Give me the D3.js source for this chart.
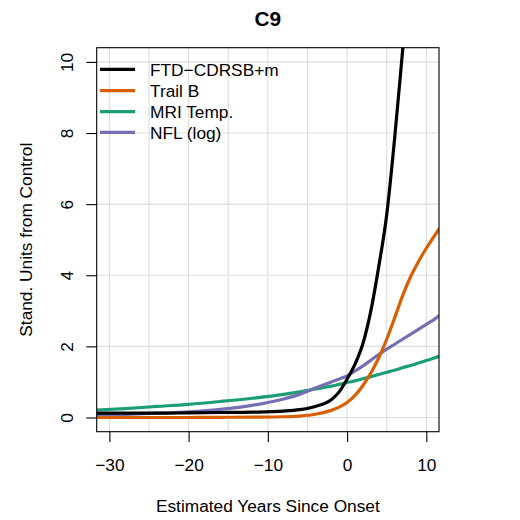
<!DOCTYPE html>
<html>
<head>
<meta charset="utf-8">
<script src="https://cdn.jsdelivr.net/npm/d3@7"></script>
<style>
  html, body { margin: 0; padding: 0; background: #fff; }
  text { font-family: "Liberation Sans", Arial, Helvetica, sans-serif; }
</style>
</head>
<body>
<div id="chart"></div>
<script>
// Estimated trajectories (standardised units from controls) by years since onset
const years = [-31.6, -28, -24, -20, -16, -12, -8, -6, -4, -2, -1, 0, 1, 2, 3, 4, 5, 6, 7, 8, 9, 10, 11, 11.6];
const ftdCdrsb = [0.12, 0.12, 0.12, 0.13, 0.14, 0.15, 0.18, 0.22, 0.31, 0.5, 0.72, 1.08, 1.5, 2.08, 3.0, 4.25, 5.7, 7.85, 10.3, 12.8, null, null, null, null];
const trailB   = [0, 0, 0, 0, 0.005, 0.01, 0.02, 0.04, 0.09, 0.2, 0.29, 0.42, 0.62, 0.9, 1.25, 1.68, 2.2, 2.8, 3.42, 3.95, 4.38, 4.76, 5.1, 5.3];
const mriTemp  = [0.21, 0.25, 0.31, 0.37, 0.45, 0.54, 0.65, 0.72, 0.8, 0.88, 0.93, 0.98, 1.03, 1.09, 1.15, 1.21, 1.27, 1.33, 1.4, 1.46, 1.53, 1.6, 1.67, 1.72];
const nflLog   = [0.07, 0.09, 0.12, 0.16, 0.23, 0.34, 0.52, 0.65, 0.83, 1.0, 1.08, 1.17, 1.31, 1.45, 1.61, 1.77, 1.92, 2.06, 2.2, 2.34, 2.48, 2.62, 2.76, 2.86];

const seriesNames  = ["FTD\u2212CDRSB+m", "Trail B", "MRI Temp.", "NFL (log)"];
const seriesValues = [ftdCdrsb, trailB, mriTemp, nflLog];
const seriesColors = ["#000000", "#D95F02", "#1B9E77", "#7570B3"];
// drawing order of the curves (back to front)
const drawOrder = [2, 3, 0, 1];

const xTicks = [-30, -20, -10, 0, 10];
const xGrid  = [-30, -25, -20, -15, -10, -5, 0, 5, 10];
const yTicks = [0, 2, 4, 6, 8, 10];

const titleText = "C9";
const xLabel = "Estimated Years Since Onset";
const yLabel = "Stand. Units from Control";

const W = 520, H = 520;
const plot = { left: 96.7, right: 439, top: 47.7, bottom: 431.7 };
const fs = 17.3;

const svg = d3.select("#chart").append("svg")
  .attr("width", W).attr("height", H)
  .attr("viewBox", `0 0 ${W} ${H}`);

const x = d3.scaleLinear().domain([-31.6, 11.6]).range([plot.left, plot.right]);
const y = d3.scaleLinear().domain([-0.4, 10.4]).range([plot.bottom, plot.top]);

svg.append("defs").append("clipPath").attr("id", "plotClip")
  .append("rect")
  .attr("x", plot.left).attr("y", plot.top)
  .attr("width", plot.right - plot.left).attr("height", plot.bottom - plot.top);

// grid
const grid = svg.append("g").attr("stroke", "#DDDDDD").attr("stroke-width", 1.1);
grid.selectAll("line.v").data(xGrid).join("line")
  .attr("x1", d => x(d)).attr("x2", d => x(d))
  .attr("y1", plot.top).attr("y2", plot.bottom);
grid.selectAll("line.h").data(yTicks).join("line")
  .attr("y1", d => y(d)).attr("y2", d => y(d))
  .attr("x1", plot.left).attr("x2", plot.right);

// curves
const line = d3.line()
  .defined(d => d[1] !== null)
  .x(d => x(d[0])).y(d => y(d[1]))
  .curve(d3.curveMonotoneX);

const curves = svg.append("g").attr("clip-path", "url(#plotClip)");
drawOrder.forEach(i => {
  const pts = years.map((yr, k) => [yr, seriesValues[i][k]]);
  curves.append("path")
    .attr("d", line(pts))
    .attr("fill", "none")
    .attr("stroke", seriesColors[i])
    .attr("stroke-width", 3.2)
    .attr("stroke-linejoin", "round")
    .attr("stroke-linecap", "round");
});

// frame
svg.append("rect")
  .attr("x", plot.left).attr("y", plot.top)
  .attr("width", plot.right - plot.left).attr("height", plot.bottom - plot.top)
  .attr("fill", "none").attr("stroke", "#000").attr("stroke-width", 1.1);

// x axis
const xAxis = d3.axisBottom(x).tickValues(xTicks).tickSize(10.4).tickSizeOuter(0)
  .tickFormat(d => d < 0 ? "\u2212" + Math.abs(d) : String(d));
const gx = svg.append("g").attr("transform", `translate(0,${plot.bottom})`).call(xAxis);
gx.select(".domain").remove();
gx.selectAll(".tick line").attr("stroke", "#000").attr("stroke-width", 1.1);
gx.selectAll(".tick text")
  .attr("y", 39.3).attr("dy", null)
  .attr("fill", "#000")
  .style("font-size", fs + "px")
  .style("font-family", '"Liberation Sans", Arial, sans-serif');

// y axis
const yAxis = d3.axisLeft(y).tickValues(yTicks).tickSize(10.4).tickSizeOuter(0)
  .tickFormat(d3.format("d"));
const gy = svg.append("g").attr("transform", `translate(${plot.left},0)`).call(yAxis);
gy.select(".domain").remove();
gy.selectAll(".tick line").attr("stroke", "#000").attr("stroke-width", 1.1);
gy.selectAll(".tick text")
  .attr("x", null).attr("dy", null)
  .attr("transform", `translate(${73.3 - plot.left},0) rotate(-90)`)
  .attr("text-anchor", "middle")
  .attr("fill", "#000")
  .style("font-size", fs + "px")
  .style("font-family", '"Liberation Sans", Arial, sans-serif');

// titles
const midX = (plot.left + plot.right) / 2;
const midY = (plot.top + plot.bottom) / 2;
svg.append("text")
  .attr("x", midX).attr("y", 25.5)
  .attr("text-anchor", "middle")
  .style("font-size", "20.8px").style("font-weight", "bold")
  .text(titleText);
svg.append("text")
  .attr("x", midX).attr("y", 512)
  .attr("text-anchor", "middle")
  .style("font-size", fs + "px")
  .text(xLabel);
svg.append("text")
  .attr("transform", `translate(31.5,${midY}) rotate(-90)`)
  .attr("text-anchor", "middle")
  .style("font-size", fs + "px")
  .text(yLabel);

// legend
const legendRows = [69.3, 90.7, 111.7, 132.3];
const legend = svg.append("g");
seriesNames.forEach((name, i) => {
  const ry = legendRows[i];
  legend.append("line")
    .attr("x1", 100).attr("x2", 135)
    .attr("y1", ry).attr("y2", ry)
    .attr("stroke", seriesColors[i]).attr("stroke-width", 3.2);
  legend.append("text")
    .attr("x", 150).attr("y", ry + 6.2)
    .style("font-size", fs + "px")
    .text(name);
});
</script>
</body>
</html>
